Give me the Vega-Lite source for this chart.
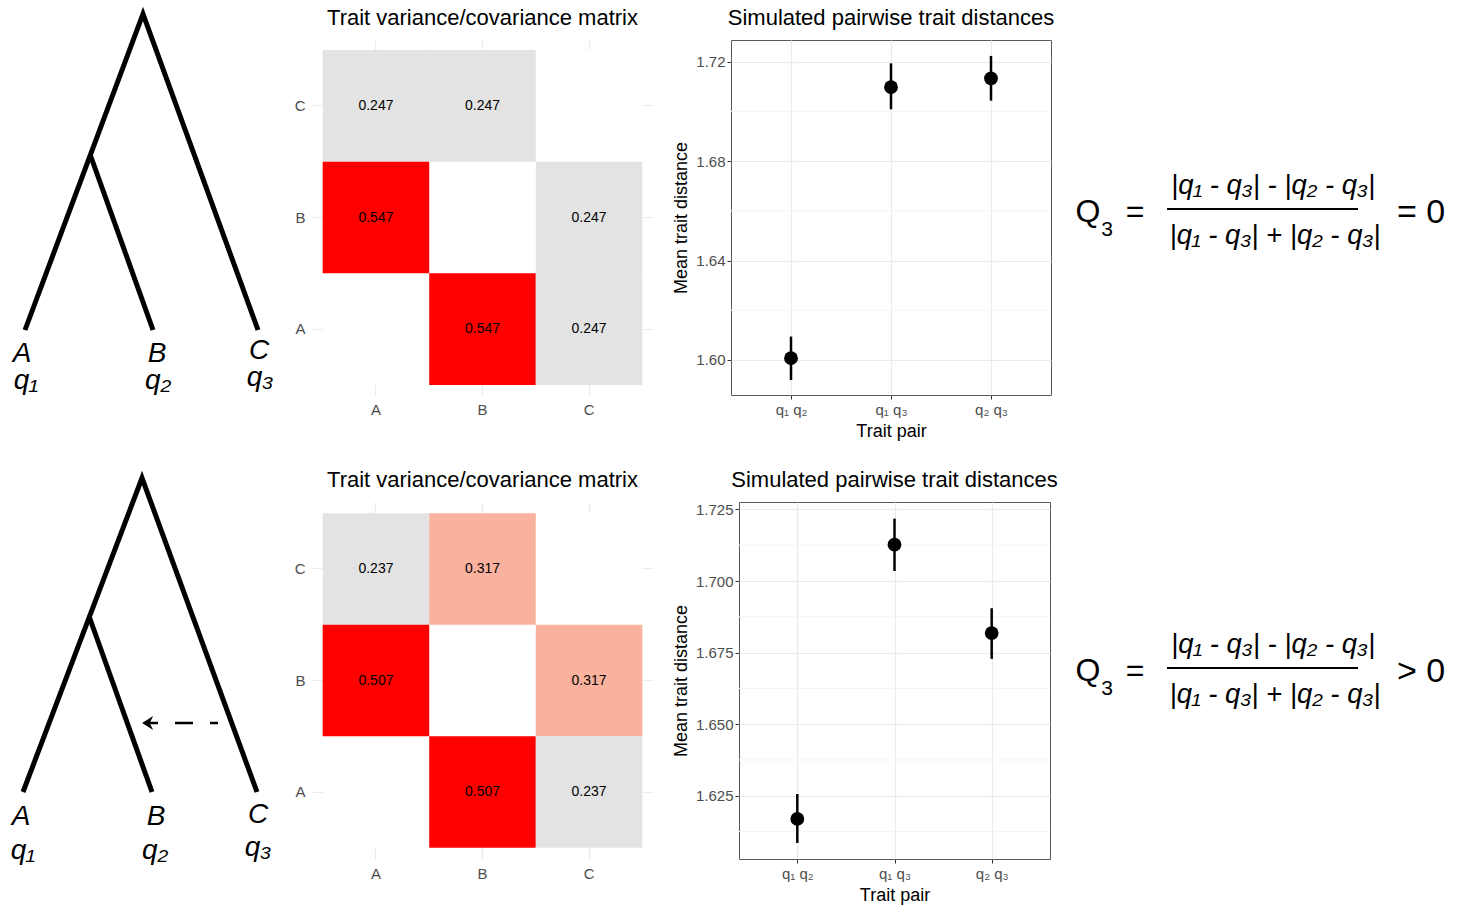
{
  "$schema": "https://vega.github.io/schema/vega-lite/v6.json",
  "background": "white",
  "padding": {"left": 0, "top": 4, "right": 0, "bottom": 0},
  "autosize": {"type": "pad"},
  "config": {
    "font": "Liberation Sans",
    "view": {"stroke": null},
    "title": {"fontSize": 22, "fontWeight": "normal", "color": "black", "anchor": "middle", "frame": "group", "offset": 10, "font": "Liberation Sans"},
    "axis": {"labelFont": "Liberation Sans", "titleFont": "Liberation Sans", "zindex": 0},
    "text": {"font": "Liberation Sans", "color": "black"}
  },
  "datasets": {
    "pts1": [
      {"pair": "q₁ q₂", "mean": 1.6007, "lo": 1.5919, "hi": 1.6094},
      {"pair": "q₁ q₃", "mean": 1.7097, "lo": 1.7008, "hi": 1.7193},
      {"pair": "q₂ q₃", "mean": 1.7133, "lo": 1.7043, "hi": 1.7223}
    ],
    "pts2": [
      {"pair": "q₁ q₂", "mean": 1.6169, "lo": 1.6085, "hi": 1.6256},
      {"pair": "q₁ q₃", "mean": 1.7127, "lo": 1.7035, "hi": 1.7218},
      {"pair": "q₂ q₃", "mean": 1.6818, "lo": 1.6728, "hi": 1.6905}
    ]
  },
  "spacing": 27,
  "resolve": {"scale": {"color": "independent"}},
  "vconcat": [
    {
      "bounds": "flush",
      "spacing": 78,
      "resolve": {"scale": {"color": "independent"}},
      "hconcat": [
        {
          "width": 234, "height": 355,
          "encoding": {
            "x": {"field": "x", "type": "quantitative", "scale": {"domain": [0, 234], "nice": false, "zero": false}, "axis": null},
            "y": {"field": "y", "type": "quantitative", "scale": {"domain": [40, 395], "reverse": true, "nice": false, "zero": false}, "axis": null}
          },
          "layer": [
            {
              "data": {"values": [
                {"branch": "outer", "step": 1, "x": 25, "y": 330},
                {"branch": "outer", "step": 2, "x": 143, "y": 14},
                {"branch": "outer", "step": 3, "x": 258, "y": 330},
                {"branch": "inner", "step": 1, "x": 90.3, "y": 155},
                {"branch": "inner", "step": 2, "x": 153, "y": 330}
              ]},
              "mark": {"type": "line", "color": "black", "strokeWidth": 5, "strokeJoin": "miter", "strokeCap": "butt"},
              "encoding": {"detail": {"field": "branch"}, "order": {"field": "step"}}
            },
            {
              "data": {"values": [
                {"t": "A", "x": 22, "y": 362}, {"t": "B", "x": 157, "y": 362}, {"t": "C", "x": 259, "y": 359},
                {"t": "q₁", "x": 26, "y": 389}, {"t": "q₂", "x": 158, "y": 389}, {"t": "q₃", "x": 260, "y": 386}
              ]},
              "mark": {"type": "text", "fontSize": 28, "fontStyle": "italic", "baseline": "alphabetic", "align": "center"},
              "encoding": {"text": {"field": "t"}}
            }
          ]
        },
        {
          "width": 341, "height": 355,
          "title": "Trait variance/covariance matrix",
          "data": {"values": [
            {"col": "A", "row": "C", "value": 0.247}, {"col": "B", "row": "C", "value": 0.247}, {"col": "C", "row": "C", "value": null},
            {"col": "A", "row": "B", "value": 0.547}, {"col": "B", "row": "B", "value": null}, {"col": "C", "row": "B", "value": 0.247},
            {"col": "A", "row": "A", "value": null}, {"col": "B", "row": "A", "value": 0.547}, {"col": "C", "row": "A", "value": 0.247}
          ]},
          "encoding": {
            "x": {"field": "col", "type": "nominal", "sort": ["A", "B", "C"], "scale": {"paddingInner": 0, "paddingOuter": 0.1},
                  "axis": {"title": null, "labelAngle": 0, "ticks": false, "domain": false, "grid": true, "gridColor": "#EBEBEB", "gridWidth": 1.2, "bandPosition": 0.5, "labelPadding": 7, "labelFontSize": 15, "labelColor": "#4D4D4D", "zindex": 0}},
            "y": {"field": "row", "type": "nominal", "sort": ["C", "B", "A"], "scale": {"paddingInner": 0, "paddingOuter": 0.09},
                  "axis": {"title": null, "ticks": false, "domain": false, "grid": true, "gridColor": "#EBEBEB", "gridWidth": 1.2, "bandPosition": 0.5, "labelPadding": 7, "labelFontSize": 15, "labelColor": "#4D4D4D", "zindex": 0}}
          },
          "layer": [
            {"mark": {"type": "rect", "color": "white"}},
            {"transform": [{"filter": "isValid(datum.value)"}], "mark": {"type": "rect"},
             "encoding": {"color": {"field": "value", "type": "quantitative", "scale": {"domain": [0.247, 0.547], "range": ["#E3E3E3", "#FF0000"], "zero": false, "nice": false, "interpolate": "rgb"}, "legend": null}}},
            {"transform": [{"filter": "isValid(datum.value)"}], "mark": {"type": "text", "fontSize": 14, "color": "black"},
             "encoding": {"text": {"field": "value", "type": "quantitative", "format": ".3f"}}}
          ]
        },
        {
          "width": 320, "height": 355,
          "title": "Simulated pairwise trait distances",
          "view": {"stroke": "#595959", "strokeWidth": 1},
          "encoding": {
            "x": {"field": "pair", "type": "nominal", "sort": ["q₁ q₂", "q₁ q₃", "q₂ q₃"], "scale": {"type": "point", "padding": 0.6},
                  "axis": {"title": "Trait pair", "titleFontSize": 18, "titleFontWeight": "normal", "titleColor": "black", "titlePadding": 5, "labelAngle": 0, "labelFontSize": 15, "labelColor": "#4D4D4D", "labelPadding": 3, "ticks": true, "tickSize": 4, "tickColor": "#333333", "domain": false, "grid": true, "gridColor": "#EBEBEB", "gridWidth": 1.2, "zindex": 0}}
          },
          "layer": [
            {
              "data": {"values": [{"v": 1.62}, {"v": 1.66}, {"v": 1.70}]},
              "mark": {"type": "rule", "color": "#F4F4F4", "strokeWidth": 1},
              "encoding": {
                "x": null,
                "y": {"field": "v", "type": "quantitative", "scale": {"domain": [1.5859, 1.7287], "nice": false, "zero": false},
                      "axis": {"title": "Mean trait distance", "values": [1.6, 1.64, 1.68, 1.72], "format": ".2f", "titleFontSize": 18, "titleFontWeight": "normal", "titleColor": "black", "titlePadding": 5, "labelFontSize": 15, "labelColor": "#4D4D4D", "labelPadding": 2, "ticks": true, "tickSize": 4, "tickColor": "#333333", "domain": false, "grid": true, "gridColor": "#EBEBEB", "gridWidth": 1.2, "zindex": 0}}
              }
            },
            {
              "data": {"name": "pts1"},
              "mark": {"type": "rule", "color": "black", "strokeWidth": 2.5},
              "encoding": {
                "y": {"field": "lo", "type": "quantitative", "scale": {"domain": [1.5859, 1.7287], "nice": false, "zero": false},
                      "axis": {"title": "Mean trait distance", "values": [1.6, 1.64, 1.68, 1.72], "format": ".2f", "titleFontSize": 18, "titleFontWeight": "normal", "titleColor": "black", "titlePadding": 5, "labelFontSize": 15, "labelColor": "#4D4D4D", "labelPadding": 2, "ticks": true, "tickSize": 4, "tickColor": "#333333", "domain": false, "grid": true, "gridColor": "#EBEBEB", "gridWidth": 1.2, "zindex": 0}},
                "y2": {"field": "hi"}
              }
            },
            {
              "data": {"name": "pts1"},
              "mark": {"type": "point", "filled": true, "size": 190, "color": "black", "opacity": 1},
              "encoding": {
                "y": {"field": "mean", "type": "quantitative", "scale": {"domain": [1.5859, 1.7287], "nice": false, "zero": false},
                      "axis": {"title": "Mean trait distance", "values": [1.6, 1.64, 1.68, 1.72], "format": ".2f", "titleFontSize": 18, "titleFontWeight": "normal", "titleColor": "black", "titlePadding": 5, "labelFontSize": 15, "labelColor": "#4D4D4D", "labelPadding": 2, "ticks": true, "tickSize": 4, "tickColor": "#333333", "domain": false, "grid": true, "gridColor": "#EBEBEB", "gridWidth": 1.2, "zindex": 0}}
              }
            }
          ]
        },
        {
          "width": 334, "height": 355,
          "encoding": {
            "x": {"field": "x", "type": "quantitative", "scale": {"domain": [1129, 1463], "nice": false, "zero": false}, "axis": null},
            "y": {"field": "y", "type": "quantitative", "scale": {"domain": [40, 395], "reverse": true, "nice": false, "zero": false}, "axis": null}
          },
          "layer": [
            {"data": {"values": [{"t": "Q", "x": 1088, "y": 222}, {"t": "=", "x": 1135, "y": 222}]},
             "mark": {"type": "text", "fontSize": 32, "baseline": "alphabetic", "align": "center"}, "encoding": {"text": {"field": "t"}}},
            {"data": {"values": [{"t": "3", "x": 1107, "y": 236}]},
             "mark": {"type": "text", "fontSize": 21, "baseline": "alphabetic", "align": "center"}, "encoding": {"text": {"field": "t"}}},
            {"data": {"values": [{"t": "|q₁ - q₃| - |q₂ - q₃|", "x": 1273, "y": 194}, {"t": "|q₁ - q₃| + |q₂ - q₃|", "x": 1275, "y": 244}]},
             "mark": {"type": "text", "fontSize": 27.5, "fontStyle": "italic", "baseline": "alphabetic", "align": "center"}, "encoding": {"text": {"field": "t"}}},
            {"data": {"values": [{"x": 1167, "x2": 1358, "y": 209}]},
             "mark": {"type": "rule", "color": "black", "strokeWidth": 2}, "encoding": {"x2": {"field": "x2"}}},
            {"data": {"values": [{"t": "= 0", "x": 1421, "y": 223}]},
             "mark": {"type": "text", "fontSize": 34, "baseline": "alphabetic", "align": "center"}, "encoding": {"text": {"field": "t"}}}
          ]
        }
      ]
    },
    {
      "bounds": "flush",
      "spacing": 86,
      "resolve": {"scale": {"color": "independent"}},
      "hconcat": [
        {
          "width": 226, "height": 357,
          "encoding": {
            "x": {"field": "x", "type": "quantitative", "scale": {"domain": [0, 226], "nice": false, "zero": false}, "axis": null},
            "y": {"field": "y", "type": "quantitative", "scale": {"domain": [503, 860], "reverse": true, "nice": false, "zero": false}, "axis": null}
          },
          "layer": [
            {
              "data": {"values": [
                {"branch": "outer", "step": 1, "x": 23, "y": 793},
                {"branch": "outer", "step": 2, "x": 142, "y": 479},
                {"branch": "outer", "step": 3, "x": 257, "y": 793},
                {"branch": "inner", "step": 1, "x": 89.3, "y": 618},
                {"branch": "inner", "step": 2, "x": 152, "y": 793}
              ]},
              "mark": {"type": "line", "color": "black", "strokeWidth": 5, "strokeJoin": "miter", "strokeCap": "butt"},
              "encoding": {"detail": {"field": "branch"}, "order": {"field": "step"}}
            },
            {
              "data": {"values": [{"x": 218, "x2": 146, "y": 724}]},
              "mark": {"type": "rule", "color": "black", "strokeWidth": 2.5, "strokeDash": [8, 17, 18, 17, 18, 17]},
              "encoding": {"x2": {"field": "x2"}}
            },
            {
              "data": {"values": [{"x": 149, "y": 724}]},
              "mark": {"type": "point", "shape": "M-1,0 L0.6,-1 L0.1,0 L0.6,1 Z", "filled": true, "size": 190, "color": "black", "opacity": 1}
            },
            {
              "data": {"values": [
                {"t": "A", "x": 21, "y": 826}, {"t": "B", "x": 156, "y": 826}, {"t": "C", "x": 258, "y": 824},
                {"t": "q₁", "x": 23, "y": 860}, {"t": "q₂", "x": 155, "y": 860}, {"t": "q₃", "x": 258, "y": 857}
              ]},
              "mark": {"type": "text", "fontSize": 28, "fontStyle": "italic", "baseline": "alphabetic", "align": "center"},
              "encoding": {"text": {"field": "t"}}
            }
          ]
        },
        {
          "width": 341, "height": 357,
          "title": "Trait variance/covariance matrix",
          "data": {"values": [
            {"col": "A", "row": "C", "value": 0.237}, {"col": "B", "row": "C", "value": 0.317}, {"col": "C", "row": "C", "value": null},
            {"col": "A", "row": "B", "value": 0.507}, {"col": "B", "row": "B", "value": null}, {"col": "C", "row": "B", "value": 0.317},
            {"col": "A", "row": "A", "value": null}, {"col": "B", "row": "A", "value": 0.507}, {"col": "C", "row": "A", "value": 0.237}
          ]},
          "encoding": {
            "x": {"field": "col", "type": "nominal", "sort": ["A", "B", "C"], "scale": {"paddingInner": 0, "paddingOuter": 0.1},
                  "axis": {"title": null, "labelAngle": 0, "ticks": false, "domain": false, "grid": true, "gridColor": "#EBEBEB", "gridWidth": 1.2, "bandPosition": 0.5, "labelPadding": 7, "labelFontSize": 15, "labelColor": "#4D4D4D", "zindex": 0}},
            "y": {"field": "row", "type": "nominal", "sort": ["C", "B", "A"], "scale": {"paddingInner": 0, "paddingOuter": 0.1},
                  "axis": {"title": null, "ticks": false, "domain": false, "grid": true, "gridColor": "#EBEBEB", "gridWidth": 1.2, "bandPosition": 0.5, "labelPadding": 7, "labelFontSize": 15, "labelColor": "#4D4D4D", "zindex": 0}}
          },
          "layer": [
            {"mark": {"type": "rect", "color": "white"}},
            {"transform": [{"filter": "isValid(datum.value)"}], "mark": {"type": "rect"},
             "encoding": {"color": {"field": "value", "type": "quantitative", "scale": {"domain": [0.237, 0.317, 0.507], "range": ["#E3E3E3", "#FAB29E", "#FF0000"], "zero": false, "nice": false, "interpolate": "rgb"}, "legend": null}}},
            {"transform": [{"filter": "isValid(datum.value)"}], "mark": {"type": "text", "fontSize": 14, "color": "black"},
             "encoding": {"text": {"field": "value", "type": "quantitative", "format": ".3f"}}}
          ]
        },
        {
          "width": 311, "height": 357,
          "title": "Simulated pairwise trait distances",
          "view": {"stroke": "#595959", "strokeWidth": 1},
          "encoding": {
            "x": {"field": "pair", "type": "nominal", "sort": ["q₁ q₂", "q₁ q₃", "q₂ q₃"], "scale": {"type": "point", "padding": 0.6},
                  "axis": {"title": "Trait pair", "titleFontSize": 18, "titleFontWeight": "normal", "titleColor": "black", "titlePadding": 5, "labelAngle": 0, "labelFontSize": 15, "labelColor": "#4D4D4D", "labelPadding": 3, "ticks": true, "tickSize": 4, "tickColor": "#333333", "domain": false, "grid": true, "gridColor": "#EBEBEB", "gridWidth": 1.2, "zindex": 0}}
          },
          "layer": [
            {
              "data": {"values": [{"v": 1.6125}, {"v": 1.6375}, {"v": 1.6625}, {"v": 1.6875}, {"v": 1.7125}]},
              "mark": {"type": "rule", "color": "#F4F4F4", "strokeWidth": 1},
              "encoding": {
                "x": null,
                "y": {"field": "v", "type": "quantitative", "scale": {"domain": [1.6029, 1.7276], "nice": false, "zero": false},
                      "axis": {"title": "Mean trait distance", "values": [1.625, 1.65, 1.675, 1.7, 1.725], "format": ".3f", "titleFontSize": 18, "titleFontWeight": "normal", "titleColor": "black", "titlePadding": 5, "labelFontSize": 15, "labelColor": "#4D4D4D", "labelPadding": 2, "ticks": true, "tickSize": 4, "tickColor": "#333333", "domain": false, "grid": true, "gridColor": "#EBEBEB", "gridWidth": 1.2, "zindex": 0}}
              }
            },
            {
              "data": {"name": "pts2"},
              "mark": {"type": "rule", "color": "black", "strokeWidth": 2.5},
              "encoding": {
                "y": {"field": "lo", "type": "quantitative", "scale": {"domain": [1.6029, 1.7276], "nice": false, "zero": false},
                      "axis": {"title": "Mean trait distance", "values": [1.625, 1.65, 1.675, 1.7, 1.725], "format": ".3f", "titleFontSize": 18, "titleFontWeight": "normal", "titleColor": "black", "titlePadding": 5, "labelFontSize": 15, "labelColor": "#4D4D4D", "labelPadding": 2, "ticks": true, "tickSize": 4, "tickColor": "#333333", "domain": false, "grid": true, "gridColor": "#EBEBEB", "gridWidth": 1.2, "zindex": 0}},
                "y2": {"field": "hi"}
              }
            },
            {
              "data": {"name": "pts2"},
              "mark": {"type": "point", "filled": true, "size": 190, "color": "black", "opacity": 1},
              "encoding": {
                "y": {"field": "mean", "type": "quantitative", "scale": {"domain": [1.6029, 1.7276], "nice": false, "zero": false},
                      "axis": {"title": "Mean trait distance", "values": [1.625, 1.65, 1.675, 1.7, 1.725], "format": ".3f", "titleFontSize": 18, "titleFontWeight": "normal", "titleColor": "black", "titlePadding": 5, "labelFontSize": 15, "labelColor": "#4D4D4D", "labelPadding": 2, "ticks": true, "tickSize": 4, "tickColor": "#333333", "domain": false, "grid": true, "gridColor": "#EBEBEB", "gridWidth": 1.2, "zindex": 0}}
              }
            }
          ]
        },
        {
          "width": 327, "height": 357,
          "encoding": {
            "x": {"field": "x", "type": "quantitative", "scale": {"domain": [1136, 1463], "nice": false, "zero": false}, "axis": null},
            "y": {"field": "y", "type": "quantitative", "scale": {"domain": [503, 860], "reverse": true, "nice": false, "zero": false}, "axis": null}
          },
          "layer": [
            {"data": {"values": [{"t": "Q", "x": 1088, "y": 682}, {"t": "=", "x": 1135, "y": 682}]},
             "mark": {"type": "text", "fontSize": 32, "baseline": "alphabetic", "align": "center"}, "encoding": {"text": {"field": "t"}}},
            {"data": {"values": [{"t": "3", "x": 1107, "y": 696}]},
             "mark": {"type": "text", "fontSize": 21, "baseline": "alphabetic", "align": "center"}, "encoding": {"text": {"field": "t"}}},
            {"data": {"values": [{"t": "|q₁ - q₃| - |q₂ - q₃|", "x": 1273, "y": 654}, {"t": "|q₁ - q₃| + |q₂ - q₃|", "x": 1275, "y": 704}]},
             "mark": {"type": "text", "fontSize": 27.5, "fontStyle": "italic", "baseline": "alphabetic", "align": "center"}, "encoding": {"text": {"field": "t"}}},
            {"data": {"values": [{"x": 1167, "x2": 1358, "y": 669}]},
             "mark": {"type": "rule", "color": "black", "strokeWidth": 2}, "encoding": {"x2": {"field": "x2"}}},
            {"data": {"values": [{"t": "> 0", "x": 1421, "y": 683}]},
             "mark": {"type": "text", "fontSize": 34, "baseline": "alphabetic", "align": "center"}, "encoding": {"text": {"field": "t"}}}
          ]
        }
      ]
    }
  ]
}
